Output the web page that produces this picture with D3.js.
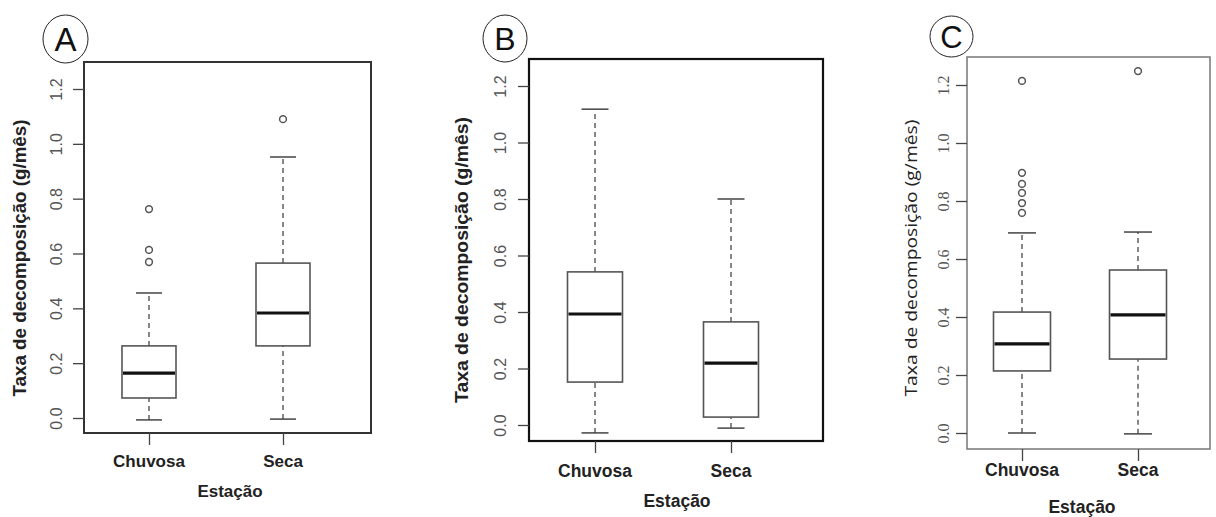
<!DOCTYPE html>
<html>
<head>
<meta charset="utf-8">
<script src="https://cdn.jsdelivr.net/npm/d3@7"></script>
<style>
  body { margin: 0; background: #fff; }
  svg { display: block; }
</style>
</head>
<body>
<div id="chart"></div>
<script>
// Data
var categories = ["Chuvosa", "Seca"];
var yTicks = [0, 0.2, 0.4, 0.6, 0.8, 1.0, 1.2];
var yTickLabels = ["0.0", "0.2", "0.4", "0.6", "0.8", "1.0", "1.2"];

// [lower whisker, Q1, median, Q3, upper whisker]
var boxA = [[-0.007, 0.073, 0.164, 0.263, 0.456], [-0.004, 0.263, 0.383, 0.565, 0.952]];
var outA = [[0.762, 0.613, 0.569], [1.09]];

var boxB = [[-0.028, 0.152, 0.393, 0.542, 1.118], [-0.011, 0.028, 0.219, 0.365, 0.80]];
var outB = [[], []];

var boxC = [[0.0, 0.214, 0.307, 0.417, 0.69], [-0.003, 0.255, 0.407, 0.562, 0.693]];
var outC = [[1.214, 0.897, 0.859, 0.828, 0.793, 0.759], [1.248]];

var yTitle = "Taxa de decomposição (g/mês)";
var xTitle = "Estação";

var svg = d3.select("#chart")
  .append("svg")
  .attr("width", 1216)
  .attr("height", 517);

var panels = [
  {
    letter: "A", boxes: boxA, outliers: outA,
    frame: { x0: 84, y0: 62, x1: 371, y1: 433 }, frameColor: "#333", frameWidth: 2,
    y0: 418, y12: 89, xs: [149, 283], boxW: 54, capW: 26,
    tickLabelX: 62, tickLabelFont: "Liberation Sans", tickSize: 16,
    yTitleX: 26, yTitleY: 258, yTitleFont: "Liberation Sans", yTitleWeight: "bold", yTitleSize: 18.5, yTitleLen: 277,
    catY: 467, xTitleX: 230, xTitleY: 497, xLabelSize: 17,
    circle: { cx: 65.5, cy: 39, rx: 22.5, ry: 24 }, letterSize: 33
  },
  {
    letter: "B", boxes: boxB, outliers: outB,
    frame: { x0: 529, y0: 59, x1: 823, y1: 441 }, frameColor: "#111", frameWidth: 2.2,
    y0: 425, y12: 86, xs: [595, 731], boxW: 55, capW: 27,
    tickLabelX: 506, tickLabelFont: "Liberation Sans", tickSize: 16,
    yTitleX: 468, yTitleY: 260, yTitleFont: "Liberation Sans", yTitleWeight: "bold", yTitleSize: 19, yTitleLen: 286,
    catY: 477, xTitleX: 677, xTitleY: 507, xLabelSize: 17.5,
    circle: { cx: 505, cy: 38.5, rx: 22, ry: 23.5 }, letterSize: 32
  },
  {
    letter: "C", boxes: boxC, outliers: outC,
    frame: { x0: 967, y0: 57, x1: 1210, y1: 449 }, frameColor: "#777", frameWidth: 1.5,
    y0: 433, y12: 85, xs: [1022, 1138], boxW: 57, capW: 28,
    tickLabelX: 949, tickLabelFont: "Liberation Serif", tickSize: 16,
    yTitleX: 917, yTitleY: 258, yTitleFont: "Open Sans", yTitleWeight: "normal", yTitleSize: 17, yTitleLen: 277,
    catY: 476, xTitleX: 1082, xTitleY: 513, xLabelSize: 17.5,
    circle: { cx: 951.5, cy: 36.5, rx: 21.5, ry: 20.5 }, letterSize: 31
  }
];

panels.forEach(function (p) {
  var g = svg.append("g");

  var y = d3.scaleLinear().domain([0, 1.2]).range([p.y0, p.y12]);
  var x = d3.scaleOrdinal().domain(categories).range(p.xs);

  // Frame
  g.append("rect")
    .attr("x", p.frame.x0)
    .attr("y", p.frame.y0)
    .attr("width", p.frame.x1 - p.frame.x0)
    .attr("height", p.frame.y1 - p.frame.y0)
    .attr("fill", "none")
    .attr("stroke", p.frameColor)
    .attr("stroke-width", p.frameWidth);

  // Y axis
  var yAxis = d3.axisLeft(y)
    .tickValues(yTicks)
    .tickSize(11)
    .tickFormat(function (d, i) { return yTickLabels[i]; });

  var ya = g.append("g")
    .attr("transform", "translate(" + p.frame.x0 + ",0)")
    .call(yAxis);
  ya.select(".domain").remove();
  ya.selectAll(".tick line").attr("stroke", "#444").attr("stroke-width", 1.3);
  ya.selectAll(".tick text")
    .attr("x", null).attr("dy", null)
    .attr("transform", "translate(" + (p.tickLabelX - p.frame.x0) + ",0) rotate(-90)")
    .attr("text-anchor", "middle")
    .style("font-family", p.tickLabelFont)
    .style("font-size", p.tickSize + "px")
    .attr("fill", "#555");

  // X axis ticks
  var xa = g.append("g")
    .attr("transform", "translate(0," + p.frame.y1 + ")")
    .call(d3.axisBottom(d3.scalePoint().domain(categories).range(p.xs)).tickSize(12).tickFormat(""));
  xa.select(".domain").remove();
  xa.selectAll(".tick line").attr("stroke", "#444").attr("stroke-width", 1.3);

  g.selectAll(".cat")
    .data(categories)
    .enter()
    .append("text")
    .attr("x", d => x(d))
    .attr("y", p.catY)
    .attr("text-anchor", "middle")
    .style("font-family", "Liberation Sans")
    .style("font-weight", "bold")
    .style("font-size", p.xLabelSize + "px")
    .attr("fill", "#222")
    .text(d => d);

  g.append("text")
    .attr("x", p.xTitleX)
    .attr("y", p.xTitleY)
    .attr("text-anchor", "middle")
    .style("font-family", "Liberation Sans")
    .style("font-weight", "bold")
    .style("font-size", p.xLabelSize + "px")
    .attr("fill", "#222")
    .text(xTitle);

  g.append("text")
    .attr("transform", "translate(" + p.yTitleX + "," + p.yTitleY + ") rotate(-90)")
    .attr("text-anchor", "middle")
    .attr("textLength", p.yTitleLen)
    .attr("lengthAdjust", "spacingAndGlyphs")
    .style("font-family", p.yTitleFont)
    .style("font-weight", p.yTitleWeight)
    .style("font-size", p.yTitleSize + "px")
    .attr("fill", "#222")
    .text(yTitle);

  // Boxes
  var bx = g.selectAll(".box")
    .data(p.boxes)
    .enter()
    .append("g");

  // whiskers (dashed)
  bx.append("line")
    .attr("x1", (d, i) => x(categories[i])).attr("x2", (d, i) => x(categories[i]))
    .attr("y1", d => y(d[0])).attr("y2", d => y(d[1]))
    .attr("stroke", "#555").attr("stroke-width", 1.4).attr("stroke-dasharray", "5,4");
  bx.append("line")
    .attr("x1", (d, i) => x(categories[i])).attr("x2", (d, i) => x(categories[i]))
    .attr("y1", d => y(d[3])).attr("y2", d => y(d[4]))
    .attr("stroke", "#555").attr("stroke-width", 1.4).attr("stroke-dasharray", "5,4");

  // caps
  [0, 4].forEach(function (k) {
    bx.append("line")
      .attr("x1", (d, i) => x(categories[i]) - p.capW / 2)
      .attr("x2", (d, i) => x(categories[i]) + p.capW / 2)
      .attr("y1", d => y(d[k])).attr("y2", d => y(d[k]))
      .attr("stroke", "#444").attr("stroke-width", 1.5);
  });

  bx.append("rect")
    .attr("x", (d, i) => x(categories[i]) - p.boxW / 2)
    .attr("y", d => y(d[3]))
    .attr("width", p.boxW)
    .attr("height", d => y(d[1]) - y(d[3]))
    .attr("fill", "#fff")
    .attr("stroke", "#555")
    .attr("stroke-width", 1.6);

  bx.append("line")
    .attr("x1", (d, i) => x(categories[i]) - p.boxW / 2 + 1)
    .attr("x2", (d, i) => x(categories[i]) + p.boxW / 2 - 1)
    .attr("y1", d => y(d[2])).attr("y2", d => y(d[2]))
    .attr("stroke", "#111").attr("stroke-width", 3.2);

  // Outliers
  p.outliers.forEach(function (vals, i) {
    g.selectAll(".out" + i)
      .data(vals)
      .enter()
      .append("circle")
      .attr("cx", x(categories[i]))
      .attr("cy", d => y(d))
      .attr("r", 3.4)
      .attr("fill", "none")
      .attr("stroke", "#555")
      .attr("stroke-width", 1.5);
  });

  // Panel letter
  g.append("ellipse")
    .attr("cx", p.circle.cx).attr("cy", p.circle.cy)
    .attr("rx", p.circle.rx).attr("ry", p.circle.ry)
    .attr("fill", "#fff")
    .attr("stroke", "#222").attr("stroke-width", 1);
  g.append("text")
    .attr("x", p.circle.cx)
    .attr("y", p.circle.cy + p.letterSize * 0.36)
    .attr("text-anchor", "middle")
    .style("font-family", "Liberation Sans")
    .style("font-size", p.letterSize + "px")
    .attr("fill", "#111")
    .text(p.letter);
});
</script>
</body>
</html>
